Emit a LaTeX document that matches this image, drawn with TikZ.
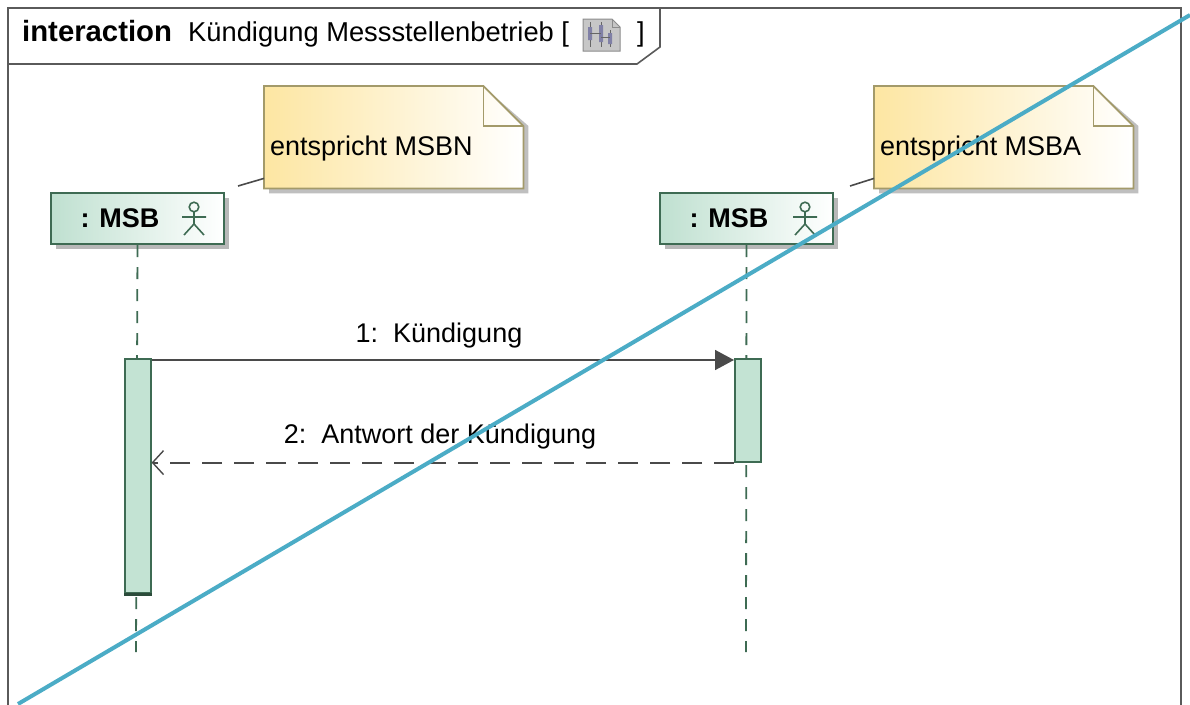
\documentclass[tikz,border=0pt]{standalone}
\usepackage{fontspec}
\setmainfont{Liberation Sans}
\usetikzlibrary{arrows.meta,shadows}
\definecolor{framec}{HTML}{5A5A5A}
\definecolor{llgreen}{HTML}{3E6B53}
\definecolor{boxgreen}{HTML}{BFE0D0}
\definecolor{barfill}{HTML}{C3E3D3}
\definecolor{noteedge}{HTML}{A39A6A}
\definecolor{noteyel}{HTML}{FDE6A2}
\definecolor{diag}{HTML}{4BACC6}
\definecolor{msgc}{HTML}{4A4A4A}
\tikzset{
  lifebox/.style={draw=llgreen, line width=2pt, left color=boxgreen, right color=white,
    minimum width=173pt, minimum height=51pt, anchor=north west, inner sep=0pt,
    drop shadow={shadow xshift=5pt, shadow yshift=-5pt, fill=black!28, opacity=1}},
  actbar/.style={draw=llgreen, line width=1.6pt, fill=barfill, anchor=north west,
    minimum width=26pt, inner sep=0pt},
  lifeline/.style={draw=llgreen, line width=1.8pt, dash pattern=on 12pt off 10pt},
  notespace/.style={anchor=north west, minimum width=259pt, minimum height=102pt, inner sep=0pt},
  notetext/.style={anchor=west, inner sep=0pt},
  synmsg/.style={draw=msgc, line width=1.6pt, -{Triangle[length=19pt,width=20pt]}},
  retmsg/.style={draw=msgc, line width=2pt, dash pattern=on 20pt off 12pt,
    -{Straight Barb[length=11pt,width=24pt,line width=1.4pt]}},
  msglabel/.style={inner sep=2pt},
  notelink/.style={draw=msgc, line width=1.6pt},
  headtext/.style={anchor=base west, inner sep=0pt, font=\fontsize{27.3pt}{32pt}\selectfont},
  actor/.pic={\draw[llgreen, line width=1.6pt] (0,-10) circle (4.8pt) (-12,0) -- (12,0)
     (0,-5.5) -- (0,7) (-10,18) -- (0,7) -- (10,18);}
}
\newcommand{\drawnote}[1]{%
  \fill[black!25] ([xshift=5pt,yshift=-5pt]#1.north west) -- ([xshift=-35pt,yshift=-5pt]#1.north east)
    -- ([xshift=5pt,yshift=-40pt]#1.north east) -- ([xshift=5pt,yshift=-5pt]#1.south east)
    -- ([xshift=5pt,yshift=-5pt]#1.south west) -- cycle;
  \shade[left color=noteyel, right color=white] (#1.north west) -- ([xshift=-40pt]#1.north east)
    -- ([yshift=-40pt]#1.north east) -- (#1.south east) -- (#1.south west) -- cycle;
  \draw[noteedge, line width=1.8pt, line join=miter] (#1.north west) -- ([xshift=-40pt]#1.north east)
    -- ([yshift=-40pt]#1.north east) -- (#1.south east) -- (#1.south west) -- cycle;
  \draw[noteedge, line width=1.8pt] ([xshift=-40pt]#1.north east) -- ([xshift=-40pt,yshift=-40pt]#1.north east)
    -- ([yshift=-40pt]#1.north east);
}
\begin{document}
\begin{tikzpicture}[x=1pt,y=-1pt, font=\fontsize{27pt}{32pt}\selectfont]
\useasboundingbox (0,0) rectangle (1190,704);
\fill[white] (0,0) rectangle (1190,704);

% frame
\draw[framec, line width=2.2pt] (8,710) -- (8,8) -- (1181,8) -- (1181,710);
\draw[framec, line width=1.6pt] (8,64) -- (637,64) -- (660,47) -- (660,8);
\node[headtext, font=\fontsize{29.3pt}{32pt}\selectfont] (hkw) at (22,41) {\textbf{interaction}};
\node[headtext] (hname) at (188,41) {Kündigung Messstellenbetrieb [};
\node[headtext] (hclose) at (637,41) {]};
% header icon
\draw[black!45, fill=black!22, line width=1pt] (583,19) -- (612,19) -- (620,27) -- (620,51) -- (583,51) -- cycle;
\draw[black!45, line width=1pt] (612,19) -- (612,27) -- (620,27);
\draw[black!60, line width=1pt] (590,22) -- (590,47) (601,22) -- (601,47) (610,30) -- (610,47);
\fill[blue!30!black!50] (588,27) rectangle (592,40) (599,25) rectangle (603,42) (608,33) rectangle (612,44);
\draw[black!60, line width=1pt] (590,33) -- (601,33) (601,37) -- (610,37);

% lifelines
\node[lifebox] (l1) at (50,192) {\textbf{: MSB}\kern35pt};
\node[lifebox] (l2) at (659,192) {\textbf{: MSB}\kern35pt};
\pic at (194,217) {actor};
\pic at (805,217) {actor};
\coordinate (e1) at (136,652);
\coordinate (e2) at (746,652);
\draw[lifeline] (l1.south) -- (e1);
\draw[lifeline] (l2.south) -- (e2);

% activation bars
\node[actbar, minimum height=234pt] (b1) at (124,358) {};
\node[actbar, minimum height=103pt] (b2) at (734,358) {};
\draw[llgreen!70!black, line width=2.5pt] ([yshift=-1pt]b1.south west) -- ([yshift=-1pt]b1.south east);

% notes
\node[notespace] (n1) at (264,86) {};
\node[notespace] (n2) at (874,86) {};
\drawnote{n1}
\drawnote{n2}
\node[notetext] (t1) at (270,149) {entspricht MSBN};
\node[notetext] (t2) at (880,149) {entspricht MSBA};
\coordinate (c1) at (238,186);
\coordinate (c2) at (850,186);
\draw[notelink] (c1) -- ([yshift=10pt]n1.south west);
\draw[notelink] (c2) -- ([yshift=10pt]n2.south west);

% messages
\draw[synmsg] ([yshift=-2pt]b1.north east) -- ([yshift=-2pt]b2.north west);
\node[msglabel] (m1) at (439,336) {1:\ \ Kündigung};
\draw[retmsg] (b2.south west) -- (b1.east |- b2.south west);
\node[msglabel] (m2) at (440,437) {2:\ \ Antwort der Kündigung};

% diagonal overlay line
\coordinate (d1) at (18,704);
\coordinate (d2) at (1190,15);
\draw[diag, line width=4pt] (d1) -- (d2);
\end{tikzpicture}
\end{document}
